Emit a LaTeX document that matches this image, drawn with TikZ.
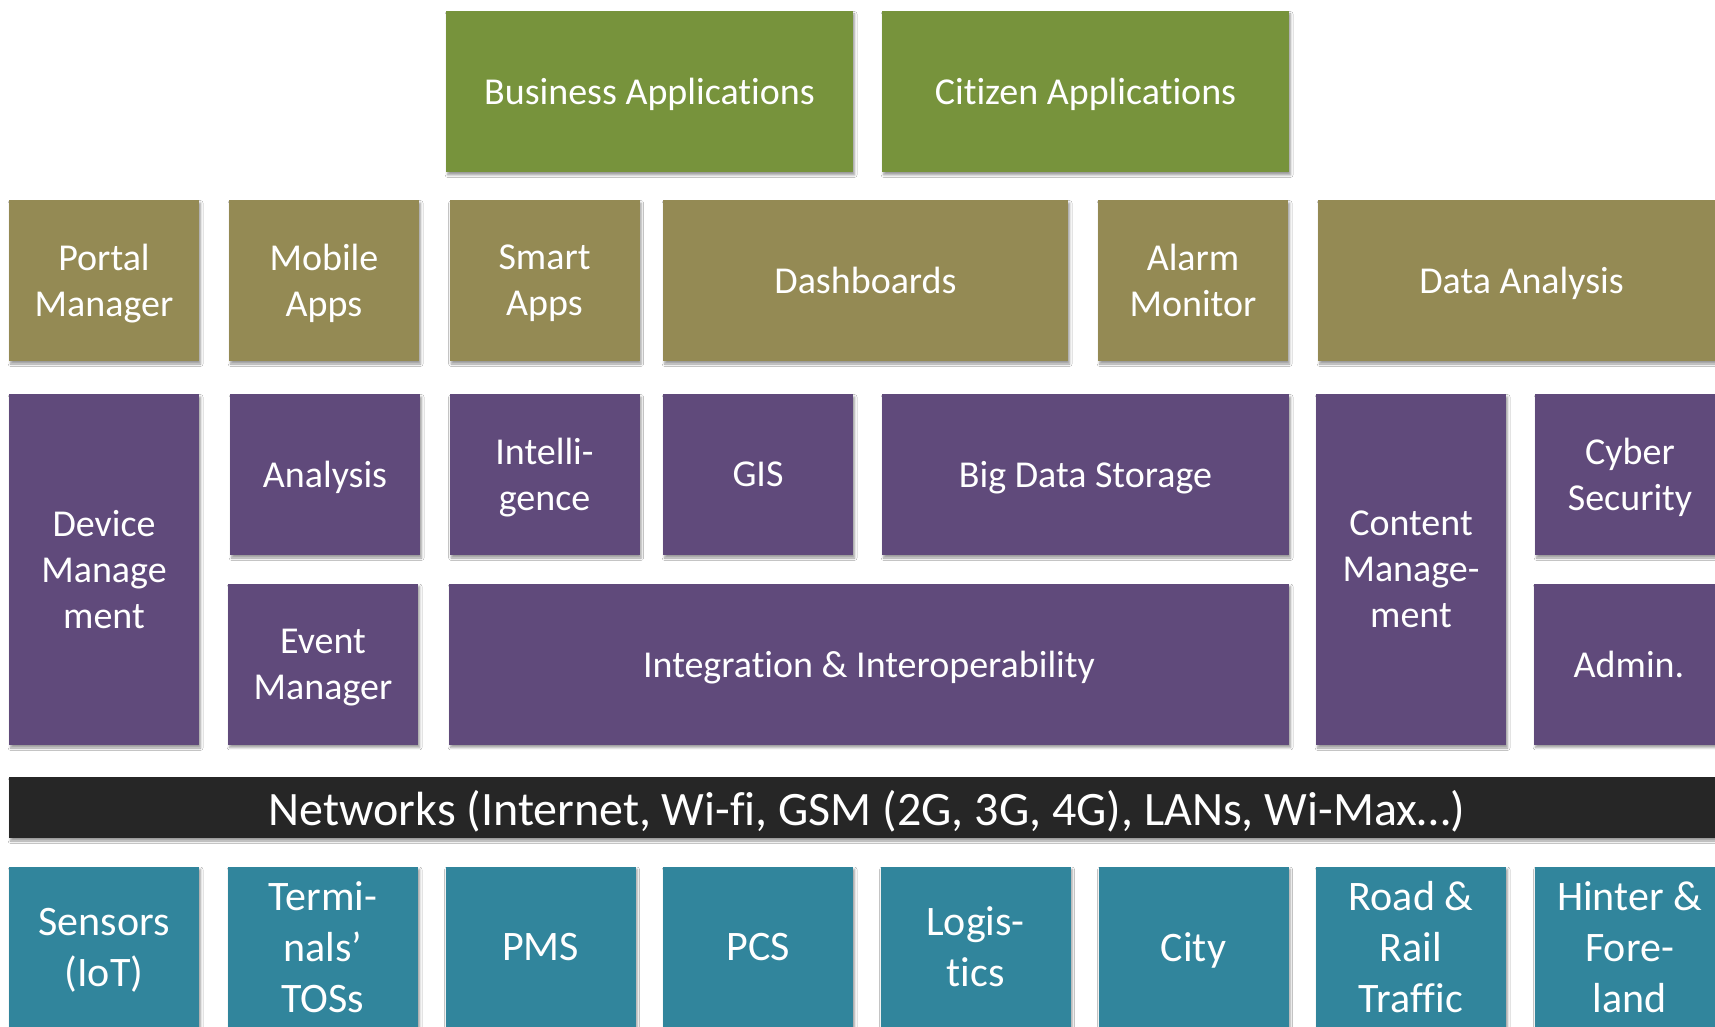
\documentclass[tikz,border=0pt]{standalone}
\usepackage{fontspec}
\setmainfont{Carlito}[Ligatures=CommonOff]
\usepackage{tikz}
\usetikzlibrary{shadows.blur}

\definecolor{appgreen}{HTML}{77933C}
\definecolor{tooltan}{HTML}{948A54}
\definecolor{corepurple}{HTML}{604A7B}
\definecolor{srcteal}{HTML}{31859C}
\definecolor{netblack}{HTML}{262626}

\begin{document}
\begin{tikzpicture}[x=0.5pt, y=-0.5pt,
    tile/.style={fill=#1, draw=none, text=white, align=center, inner sep=0pt,
        text depth=0pt, font=\fontsize{19}{23}\selectfont,
        blur shadow={shadow xshift=0.8pt, shadow yshift=-1.5pt,
            shadow blur radius=1.2pt, shadow opacity=40}},
    small/.style={minimum width=95pt, minimum height=80.5pt},
    wide/.style={minimum width=203.5pt, minimum height=80.5pt},
    tall/.style={minimum width=95pt, minimum height=175.5pt},
    src/.style={tile=srcteal, small, font=\fontsize{21}{25.5}\selectfont}]
            \clip (0,0) rectangle (1715,1027);
            \fill[white] (0,0) rectangle (1715,1027);

            % applications
            \node[tile=appgreen, wide] (busapp) at (649.5,91.5) {Business Applications};
            \node[tile=appgreen, wide] (citapp) at (1085.5,91.5) {Citizen Applications};

            % front ends
            \node[tile=tooltan, small] (portal) at (104,280.5) {Portal\\Manager};
            \node[tile=tooltan, small] (mobile) at (324,280.5) {Mobile\\Apps};
            \node[tile=tooltan, small] (smart) at (544.5,280.5) {Smart\\Apps};
            \node[tile=tooltan, wide, minimum width=202.5pt] (dash) at (865.5,280.5) {Dashboards};
            \node[tile=tooltan, small] (alarm) at (1193,280.5) {Alarm\\Monitor};
            \node[tile=tooltan, wide] (dataan) at (1521.5,280.5) {Data Analysis};

            % platform
            \node[tile=corepurple, tall] (devman) at (104,569.5) {Device\\Manage\\ment};
            \node[tile=corepurple, small] (analysis) at (325,474.5) {Analysis};
            \node[tile=corepurple, small] (intel) at (544.5,474.5) {Intelli-\\gence};
            \node[tile=corepurple, small] (gis) at (758,474.5) {GIS};
            \node[tile=corepurple, wide] (bigdata) at (1085.5,474.5) {Big Data Storage};
            \node[tile=corepurple, tall] (content) at (1411,569.5) {Content\\Manage-\\ment};
            \node[tile=corepurple, small] (cyber) at (1630,474.5) {Cyber\\Security};
            \node[tile=corepurple, small] (event) at (323,664) {Event\\Manager};
            \node[tile=corepurple, small, minimum width=420pt] (integ) at (869,664) {Integration \& Interoperability};
            \node[tile=corepurple, small] (admin) at (1629,664) {Admin.};

            % networks
            \node[tile=netblack, minimum width=858pt, minimum height=30.5pt,
                font=\fontsize{24}{29}\selectfont] (net) at (867,807.5)
                {Networks (Internet, Wi-fi, GSM (2G, 3G, 4G), LANs, Wi-Max…)};

            % sources
            \node[src] (sensors) at (104,947) {Sensors\\(IoT)};
            \node[src] (tos) at (323,947) {Termi-\\nals’\\TOSs};
            \node[src] (pms) at (540.5,947) {PMS};
            \node[src] (pcs) at (758,947) {PCS};
            \node[src] (logis) at (975.5,947) {Logis-\\tics};
            \node[src] (city) at (1193.5,947) {City};
            \node[src] (road) at (1411,947) {Road \&\\Rail\\Traffic};
            \node[src] (hinter) at (1629.5,947) {Hinter \&\\Fore-\\land};
        \end{tikzpicture}
\end{document}
